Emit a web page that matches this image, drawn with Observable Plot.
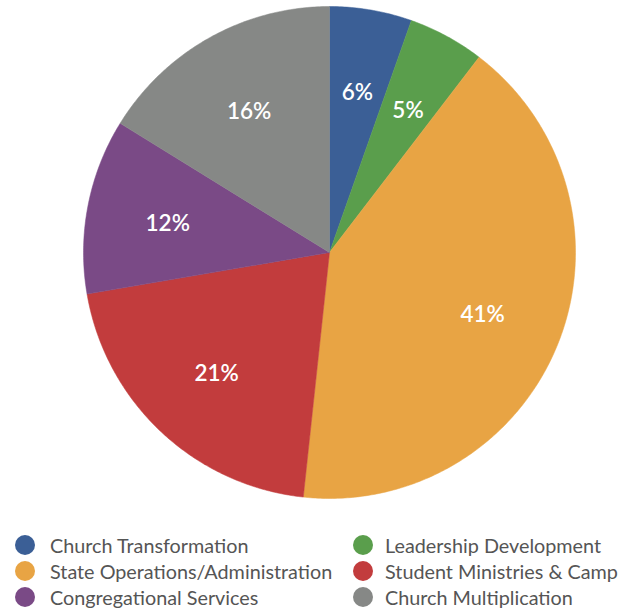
<!DOCTYPE html>
<html>
<head>
<meta charset="utf-8">
<script src="https://cdn.jsdelivr.net/npm/d3@7"></script>
<script src="https://cdn.jsdelivr.net/npm/@observablehq/plot@0.6"></script>
<style>
  html, body { margin: 0; padding: 0; background: #fff; }
  #chart { width: 626px; }
  .legend { display: grid; grid-template-columns: 353px 273px; row-gap: 0; margin-top: 22px; font-family: Lato, "Open Sans", sans-serif; font-size: 19.8px; color: #555; }
  .item { display: flex; align-items: center; height: 26px; white-space: nowrap; }
  .item:nth-child(odd) { padding-left: 15px; }
  .item:nth-child(odd) .sw { margin-right: 15px; }
  .sw { width: 20px; height: 20px; border-radius: 50%; display: inline-block; margin-right: 12px; flex: none; }
</style>
</head>
<body>
<div id="chart"></div>
<script>
const categories = ["Church Transformation", "Leadership Development", "State Operations/Administration", "Student Ministries & Camp", "Congregational Services", "Church Multiplication"];
const values = [5.4, 5.0, 41.3, 20.6, 11.5, 16.2];
const labels = ["6%", "5%", "41%", "21%", "12%", "16%"];
const colors = ["#3b5f96", "#5a9e4c", "#e8a444", "#c23c3d", "#7a4a86", "#868886"];

const pie = d3.pie().sort(null).value(d => d.value);
const arcs = pie(categories.map((c, i) => ({category: c, value: values[i], label: labels[i]})));

// slice outlines as polygons in a unit coordinate system
const pts = [];
for (const a of arcs) {
  const c = a.data.category;
  pts.push({category: c, x: 0, y: 0});
  const n = Math.max(2, Math.ceil((a.endAngle - a.startAngle) / 0.01));
  for (let k = 0; k <= n; k++) {
    const t = a.startAngle + (a.endAngle - a.startAngle) * k / n;
    pts.push({category: c, x: Math.sin(t), y: Math.cos(t)});
  }
  pts.push({category: c, x: 0, y: 0});
}
const labelPts = arcs.map(a => {
  const m = (a.startAngle + a.endAngle) / 2;
  return {category: a.data.category, label: a.data.label, x: 0.67 * Math.sin(m), y: 0.665 * Math.cos(m) - 0.008};
});

const plot = Plot.plot({
  width: 626,
  height: 510,
  marginLeft: 83,
  marginRight: 51,
  marginTop: 6,
  marginBottom: 12,
  x: {domain: [-1, 1], axis: null},
  y: {domain: [-1, 1], axis: null},
  color: {domain: categories, range: colors},
  style: {background: "#fff"},
  marks: [
    Plot.line(pts, {x: "x", y: "y", z: "category", fill: "category", stroke: "category", strokeWidth: 0.5, curve: "linear-closed"}),
    Plot.text(labelPts, {x: "x", y: "y", text: "label", fill: "white", fontSize: 22.5, fontWeight: 600, fontFamily: "Lato, 'Open Sans', sans-serif"})
  ]
});
document.getElementById("chart").appendChild(plot);

const legend = document.createElement("div");
legend.className = "legend";
categories.forEach((c, i) => {
  const it = document.createElement("div");
  it.className = "item";
  const sw = document.createElement("span");
  sw.className = "sw";
  sw.style.background = colors[i];
  it.appendChild(sw);
  it.appendChild(document.createTextNode(c));
  legend.appendChild(it);
});
document.getElementById("chart").appendChild(legend);
</script>
</body>
</html>
